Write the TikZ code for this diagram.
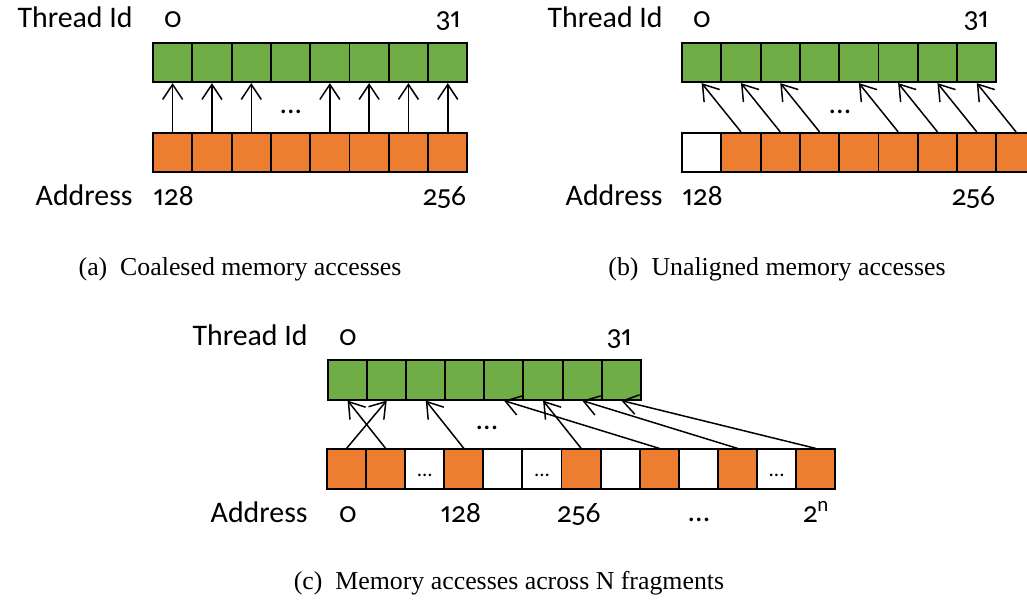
\documentclass[tikz,border=0pt]{standalone}
\usepackage{fontspec}
\setmainfont{Liberation Serif}
\newfontfamily\diagfont[Numbers={OldStyle,Proportional}]{Carlito}
\usetikzlibrary{arrows.meta}
\definecolor{tgreen}{HTML}{70AD47}
\definecolor{aorange}{HTML}{ED7D31}

\begin{document}
\begin{tikzpicture}[x=0.02cm, y=-0.02cm,
  cell/.style={draw, line width=1.1pt, minimum size=0.786cm, inner sep=0pt},
  tcell/.style={cell, fill=tgreen},
  acell/.style={cell, fill=aorange},
  ecell/.style={cell, fill=white},
  lbl/.style={font=\diagfont\fontsize{17}{20}\selectfont, inner sep=0pt},
  cdots/.style={font=\diagfont\fontsize{12}{14}\selectfont, inner sep=0pt},
  captxt/.style={font=\fontsize{14.7}{17}\selectfont, inner sep=0pt},
  acc/.style={-{Straight Barb[length=3mm,width=4mm]}, line width=0.85pt}]

\useasboundingbox (0,0) rectangle (1027,600);

% (a)
\foreach \i in {0,...,7} {
  \node[tcell] (a-g\i) at (172.65+39.3*\i, 62.5) {};
  \node[acell] (a-o\i) at (172.65+39.3*\i, 152.5) {};
}
\foreach \i in {0,1,2,4,5,6,7} \draw[acc] (a-o\i.north) -- (a-g\i.south);
\node[lbl] (a-dots) at (291,112) {...};
\node[lbl, anchor=base east] (a-tid) at (133,27) {Thread Id};
\node[lbl, anchor=base] (a-t0) at (173,27) {0};
\node[lbl, anchor=base east] (a-t31) at (461,27) {31};
\node[lbl, anchor=base east] (a-addr) at (133,205) {Address};
\node[lbl, anchor=base west] (a-a128) at (153,205) {128};
\node[lbl, anchor=base east] (a-a256) at (467,205) {256};
\node[captxt, anchor=base] (a-cap) at (240,275) {(a)\ \ Coalesed memory accesses};

% (b)
\foreach \i in {0,...,7} \node[tcell] (b-g\i) at (701.65+39.3*\i, 62.5) {};
\node[ecell] (b-o0) at (701.65, 152.5) {};
\foreach \i in {1,...,8} \node[acell] (b-o\i) at (701.65+39.3*\i, 152.5) {};
\foreach \i [evaluate=\i as \j using int(\i+1)] in {0,1,2,4,5,6,7}
  \draw[acc] (b-o\j.north) -- (b-g\i.south);
\node[lbl] (b-dots) at (840,112) {...};
\node[lbl, anchor=base east] (b-tid) at (663,27) {Thread Id};
\node[lbl, anchor=base] (b-t0) at (702,27) {0};
\node[lbl, anchor=base east] (b-t31) at (989,27) {31};
\node[lbl, anchor=base east] (b-addr) at (663,205) {Address};
\node[lbl, anchor=base west] (b-a128) at (682,205) {128};
\node[lbl, anchor=base east] (b-a256) at (996,205) {256};
\node[captxt, anchor=base] (b-cap) at (777,275) {(b)\ \ Unaligned memory accesses};

% (c)
\foreach \i in {0,...,7} \node[tcell] (c-g\i) at (347.6+39.1*\i, 380) {};
\foreach \k [count=\i from 0] in {acell,acell,ecell,acell,ecell,ecell,acell,ecell,acell,ecell,acell,ecell,acell}
  \node[\k] (c-o\i) at (346.55+39.1*\i, 469) {};
\foreach \i in {2,5,11} \node[cdots] (c-d\i) at ([yshift=-0.12cm]c-o\i.center) {...};
\foreach \s/\t in {0/1,1/0,3/2,6/5,8/4,10/6,12/7} \draw[acc] (c-o\s.north) -- (c-g\t.south);
\node[lbl] (c-dots) at (487,428) {...};
\node[lbl, anchor=base east] (c-tid) at (308,345) {Thread Id};
\node[lbl, anchor=base] (c-t0) at (348,345) {0};
\node[lbl, anchor=base east] (c-t31) at (632,345) {31};
\node[lbl, anchor=base east] (c-addr) at (308,522) {Address};
\node[lbl, anchor=base] (c-a0) at (348,522) {0};
\node[lbl, anchor=base] (c-a128) at (461,522) {128};
\node[lbl, anchor=base] (c-a256) at (579,522) {256};
\node[lbl, anchor=base] (c-adots) at (699,521) {...};
\node[lbl, anchor=base] (c-a2n) at (816,522) {2\textsuperscript{n}};
\node[captxt, anchor=base] (c-cap) at (509,589) {(c)\ \ Memory accesses across N fragments};

\end{tikzpicture}
\end{document}
